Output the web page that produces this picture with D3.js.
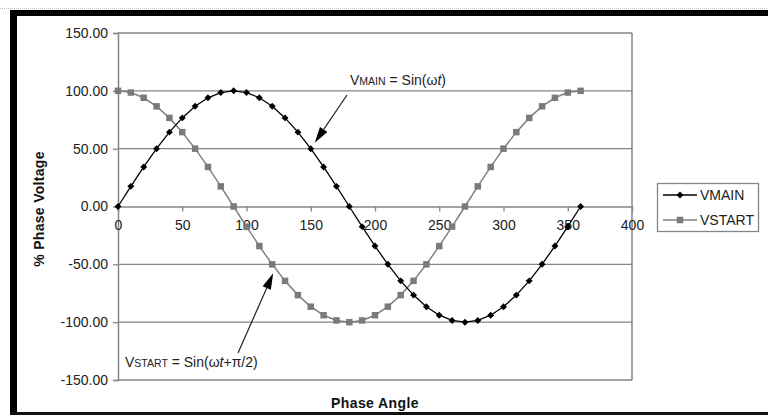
<!DOCTYPE html>
<html>
<head>
<meta charset="utf-8">
<style>
  body { margin: 0; background: #fff; }
  svg { display: block; font-family: "Liberation Sans", Arial, sans-serif; }
</style>
</head>
<body>
<script src="https://d3js.org/d3.v7.min.js"></script>
<script>

// phase angle (degrees)
var angles = [0, 10, 20, 30, 40, 50, 60, 70, 80, 90, 100, 110, 120, 130, 140, 150, 160, 170, 180,
              190, 200, 210, 220, 230, 240, 250, 260, 270, 280, 290, 300, 310, 320, 330, 340, 350, 360];

// % phase voltage
var vMain = [0, 17.4, 34.2, 50, 64.3, 76.6, 86.6, 94, 98.5, 100, 98.5, 94, 86.6, 76.6, 64.3, 50, 34.2, 17.4, 0,
             -17.4, -34.2, -50, -64.3, -76.6, -86.6, -94, -98.5, -100, -98.5, -94, -86.6, -76.6, -64.3, -50, -34.2, -17.4, 0];
var vStart = [100, 98.5, 94, 86.6, 76.6, 64.3, 50, 34.2, 17.4, 0, -17.4, -34.2, -50, -64.3, -76.6, -86.6, -94, -98.5, -100,
              -98.5, -94, -86.6, -76.6, -64.3, -50, -34.2, -17.4, 0, 17.4, 34.2, 50, 64.3, 76.6, 86.6, 94, 98.5, 100];

var seriesNames = ["VMAIN", "VSTART"];
var xTicks = [0, 50, 100, 150, 200, 250, 300, 350, 400];
var yTicks = [-150, -100, -50, 0, 50, 100, 150];

var W = 768, H = 417;
var plot = {left: 118, right: 632, top: 33, bottom: 380};
var grey = "#868686";
var font = "'Liberation Sans', Arial, sans-serif";

var svg = d3.select("body").append("svg")
    .attr("width", W)
    .attr("height", H);

svg.append("rect").attr("width", W).attr("height", H).attr("fill", "#fff");

// outer frame (black, cut off on the right)
svg.append("line").attr("x1", 0).attr("x2", W).attr("y1", 8.5).attr("y2", 8.5)
    .attr("stroke", "#bbb").attr("stroke-dasharray", "1,1");
svg.append("rect").attr("x", 10).attr("y", 10).attr("width", W - 10).attr("height", 6).attr("fill", "#000");
svg.append("rect").attr("x", 10).attr("y", 10).attr("width", 7).attr("height", 405).attr("fill", "#000");
svg.append("rect").attr("x", 10).attr("y", 412).attr("width", W - 10).attr("height", 3).attr("fill", "#111");

var x = d3.scaleLinear().domain([0, 400]).range([plot.left, plot.right]);
var y = d3.scaleLinear().domain([-150, 150]).range([plot.bottom, plot.top]);

// gridlines
svg.append("g").selectAll("line")
    .data(yTicks.filter(function(d) { return d !== 0; }))
  .enter().append("line")
    .attr("x1", plot.left).attr("x2", plot.right)
    .attr("y1", function(d) { return y(d); })
    .attr("y2", function(d) { return y(d); })
    .attr("stroke", grey).attr("stroke-width", 1.3);

// plot border right side
svg.append("line")
    .attr("x1", plot.right).attr("x2", plot.right)
    .attr("y1", plot.top).attr("y2", plot.bottom)
    .attr("stroke", grey).attr("stroke-width", 1.5);

// y axis
var fmt = d3.format(".2f");
var yAxis = svg.append("g")
    .attr("transform", "translate(" + plot.left + ",0)")
    .call(d3.axisLeft(y).tickValues(yTicks)
      .tickFormat(function(d) { return fmt(d).replace("\u2212", "-"); })
      .tickSize(5).tickPadding(5));
yAxis.select(".domain").attr("stroke", grey).attr("stroke-width", 1.5);
yAxis.selectAll(".tick line").attr("stroke", grey).attr("stroke-width", 1.3);
yAxis.selectAll("text").attr("font-size", 14).attr("fill", "#222").attr("font-family", font);

// x axis crossing at 0
var xAxis = svg.append("g")
    .attr("transform", "translate(0," + y(0) + ")")
    .call(d3.axisBottom(x).tickValues(xTicks).tickSize(5).tickPadding(9));
xAxis.select(".domain").attr("stroke", grey).attr("stroke-width", 1.3);
xAxis.selectAll(".tick line").attr("stroke", grey).attr("stroke-width", 1.3);
xAxis.selectAll("text").attr("font-size", 14).attr("fill", "#222").attr("font-family", font);

// axis titles
svg.append("text")
    .attr("x", (plot.left + plot.right) / 2).attr("y", 408)
    .attr("text-anchor", "middle")
    .attr("font-size", 14).attr("font-weight", "bold").attr("fill", "#111")
    .attr("letter-spacing", 0.4)
    .text("Phase Angle");

svg.append("text")
    .attr("transform", "translate(44," + 209 + ")rotate(-90)")
    .attr("text-anchor", "middle")
    .attr("font-size", 14).attr("font-weight", "bold").attr("fill", "#111")
    .attr("letter-spacing", 0.3)
    .text("% Phase Voltage");

// series
var rows = angles.map(function(a, i) { return {a: a, main: vMain[i], start: vStart[i]}; });

var lineStart = d3.line().x(function(d) { return x(d.a); }).y(function(d) { return y(d.start); });
var lineMain = d3.line().x(function(d) { return x(d.a); }).y(function(d) { return y(d.main); });

svg.append("path").datum(rows).attr("d", lineStart)
    .attr("fill", "none").attr("stroke", "#808080").attr("stroke-width", 1.5);
svg.append("path").datum(rows).attr("d", lineMain)
    .attr("fill", "none").attr("stroke", "#000").attr("stroke-width", 1.3);

var square = d3.symbol().type(d3.symbolSquare).size(42);
var diamond = d3.symbol().type(d3.symbolSquare).size(24);  // rotated 45deg below

svg.append("g").selectAll("path")
    .data(rows)
  .enter().append("path")
    .attr("d", square)
    .attr("transform", function(d) { return "translate(" + x(d.a) + "," + y(d.start) + ")"; })
    .attr("fill", "#7a7a7a");

svg.append("g").selectAll("path")
    .data(rows)
  .enter().append("path")
    .attr("d", diamond)
    .attr("transform", function(d) { return "translate(" + x(d.a) + "," + y(d.main) + ")rotate(45)"; })
    .attr("fill", "#000");

// annotations with arrows
function arrow(x1, y1, x2, y2) {
  var ang = Math.atan2(y2 - y1, x2 - x1);
  var len = 16, half = 4.5;
  var bx = x2 - len * Math.cos(ang), by = y2 - len * Math.sin(ang);
  svg.append("line")
      .attr("x1", x1).attr("y1", y1).attr("x2", bx).attr("y2", by)
      .attr("stroke", "#222").attr("stroke-width", 1.2);
  svg.append("path")
      .attr("d", "M" + x2 + "," + y2 +
                 "L" + (bx + half * Math.sin(ang)) + "," + (by - half * Math.cos(ang)) +
                 "L" + (bx - half * Math.sin(ang)) + "," + (by + half * Math.cos(ang)) + "Z")
      .attr("fill", "#000");
}

function label(tx, ty, sub) {
  var t = svg.append("text").attr("x", tx).attr("y", ty).attr("fill", "#222").attr("font-size", 14);
  t.append("tspan").text("V");
  t.append("tspan").attr("font-size", 10.5).text(sub);
  return t;
}

var t1 = label(350, 85, "MAIN");
t1.append("tspan").text(" = Sin(\u03c9");
t1.append("tspan").attr("font-style", "italic").text("t");
t1.append("tspan").text(")");
arrow(347, 95, x(150) + 4, y(50) - 6);

var t2 = label(125, 367, "START");
t2.append("tspan").text(" = Sin(\u03c9");
t2.append("tspan").attr("font-style", "italic").text("t");
t2.append("tspan").text("+\u03c0/2)");
arrow(238, 353, x(120) + 1, y(-50) + 9);

// legend
var lg = svg.append("g");
lg.append("rect").attr("x", 657.5).attr("y", 183.5).attr("width", 101).attr("height", 48)
    .attr("fill", "#fff").attr("stroke", grey).attr("stroke-width", 1.3);

var legendRows = lg.selectAll(".legend")
    .data(seriesNames)
  .enter().append("g")
    .attr("class", "legend")
    .attr("transform", function(d, i) { return "translate(0," + (195 + i * 25) + ")"; });

legendRows.append("line")
    .attr("x1", 663).attr("x2", 697).attr("y1", 0).attr("y2", 0)
    .attr("stroke", function(d, i) { return i ? "#808080" : "#000"; })
    .attr("stroke-width", 1.5);
legendRows.append("path")
    .attr("d", function(d, i) { return i ? square() : diamond(); })
    .attr("transform", function(d, i) { return "translate(680,0)" + (i ? "" : "rotate(45)"); })
    .attr("fill", function(d, i) { return i ? "#7a7a7a" : "#000"; });
legendRows.append("text")
    .attr("x", 700).attr("y", 0).attr("dy", "0.35em")
    .attr("font-size", 14).attr("fill", "#222")
    .text(function(d) { return d; });

</script>
</body>
</html>
